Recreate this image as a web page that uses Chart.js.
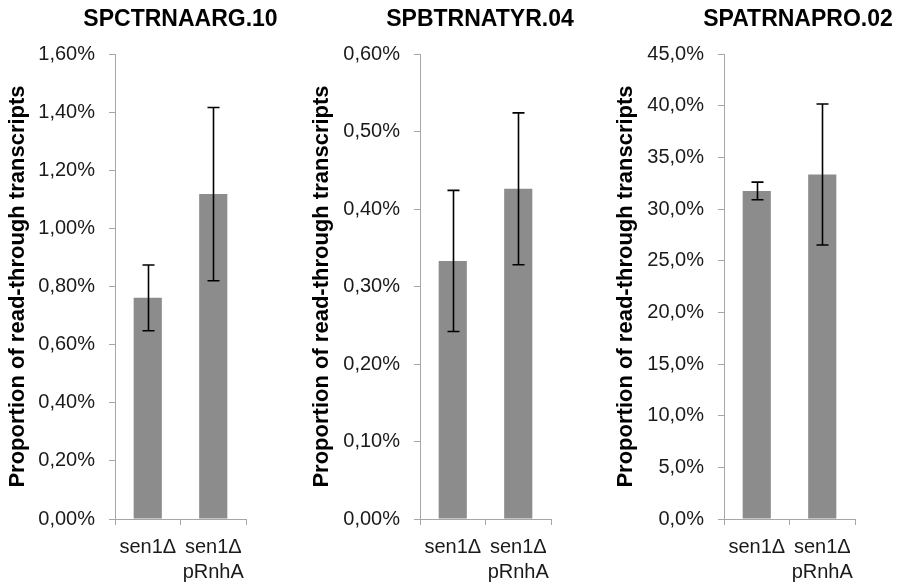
<!DOCTYPE html>
<html>
<head>
<meta charset="utf-8">
<script src="https://cdn.jsdelivr.net/npm/chart.js@4.4.1/dist/chart.umd.min.js"></script>
<style>
  html, body { margin: 0; padding: 0; background: #ffffff; overflow: hidden; width: 904px; height: 585px; }
  #wrap { position: relative; width: 904px; height: 585px; overflow: hidden; }
  canvas { position: absolute; top: 0; }
</style>
</head>
<body>
<div id="wrap">
  <canvas id="c1" width="361" height="585" style="left:0px"></canvas>
  <canvas id="c2" width="360" height="585" style="left:300px"></canvas>
  <canvas id="c3" width="396" height="585" style="left:600px"></canvas>
</div>
<script>
// ---- data ----
const categories = ['sen1Δ', ['sen1Δ', 'pRnhA']];
const panelTitles = ['SPCTRNAARG.10', 'SPBTRNATYR.04', 'SPATRNAPRO.02'];
const axisTitle = 'Proportion of read-through transcripts';

// values in percent
const valuesArg = [0.761, 1.118];
const errorsArg = [0.113, 0.298];
const valuesTyr = [0.333, 0.426];
const errorsTyr = [0.091, 0.098];
const valuesPro = [31.75, 33.34];
const errorsPro = [0.85, 6.82];

// axis ranges / tick formats
const yMaxes = [1.6, 0.6, 45];
const ySteps = [0.2, 0.1, 5];
const yDecimals = [2, 2, 1];

// ---- styling / layout ----
const BAR_COLOR = '#8c8c8c';
const AXIS_COLOR = '#a6a6a6';
const TEXT_COLOR = '#1a1a1a';
const FONT = "'Liberation Sans', Arial, sans-serif";

const errorBarPlugin = {
  id: 'errorBars',
  afterDatasetsDraw(chart, args, opts) {
    const ctx = chart.ctx;
    const xs = chart.scales.x, ys = chart.scales.y;
    const vals = chart.data.datasets[0].data;
    const errs = opts.errors || [];
    ctx.save();
    ctx.strokeStyle = '#000000';
    ctx.lineWidth = 1.6;
    vals.forEach((v, i) => {
      const e = errs[i];
      if (e == null) return;
      const x = Math.round(xs.getPixelForValue(i)) + 0.5;
      const yTop = ys.getPixelForValue(v + e);
      const yBot = ys.getPixelForValue(v - e);
      ctx.beginPath();
      ctx.moveTo(x, yTop); ctx.lineTo(x, yBot);
      ctx.moveTo(x - 6, yTop); ctx.lineTo(x + 6, yTop);
      ctx.moveTo(x - 6, yBot); ctx.lineTo(x + 6, yBot);
      ctx.stroke();
    });
    ctx.restore();
  }
};

function makeChart(id, idx, values, errors, cfg) {
  const dec = yDecimals[idx];
  return new Chart(document.getElementById(id), {
    type: 'bar',
    data: {
      labels: categories,
      datasets: [{
        data: values,
        backgroundColor: BAR_COLOR,
        borderWidth: 0,
        barPercentage: 0.43,
        categoryPercentage: 1.0
      }]
    },
    plugins: [errorBarPlugin],
    options: {
      responsive: false,
      animation: false,
      events: [],
      layout: { padding: 0 },
      plugins: {
        legend: { display: false },
        tooltip: { enabled: false },
        title: {
          display: true,
          text: panelTitles[idx],
          color: '#000000',
          font: { family: FONT, size: 23, weight: 'bold', lineHeight: 1.2 },
          padding: { top: 6, bottom: 20.4 }
        },
        errorBars: { errors: errors }
      },
      scales: {
        x: {
          grid: { display: true, drawOnChartArea: false, drawTicks: true, tickLength: 6, color: AXIS_COLOR, offset: true },
          border: { display: true, color: AXIS_COLOR, width: 1 },
          ticks: { color: TEXT_COLOR, font: { family: FONT, size: 20, lineHeight: 1.25 }, padding: 10, maxRotation: 0, autoSkip: false },
          afterFit: s => { s.height = 66; }
        },
        y: {
          min: 0,
          max: yMaxes[idx],
          grid: { display: true, drawOnChartArea: false, drawTicks: true, tickLength: 6, color: AXIS_COLOR },
          border: { display: true, color: AXIS_COLOR, width: 1 },
          ticks: {
            stepSize: ySteps[idx],
            color: TEXT_COLOR,
            font: { family: FONT, size: 20 },
            padding: 14,
            callback: v => v.toFixed(dec).replace('.', ',') + '%'
          },
          title: {
            display: true,
            text: axisTitle,
            color: '#000000',
            font: { family: FONT, size: 22, weight: 'bold', lineHeight: 1.2 },
            padding: { top: cfg.titlePad, bottom: 0 }
          },
          afterFit: s => { s.width = cfg.yWidth; }
        },
        spacer: {
          type: 'linear',
          position: 'right',
          display: true,
          grid: { display: false },
          border: { display: false },
          ticks: { display: false },
          afterFit: s => { s.width = cfg.rightWidth; }
        }
      }
    }
  });
}

makeChart('c1', 0, valuesArg, errorsArg, { yWidth: 115, rightWidth: 115, titlePad: 5 });
makeChart('c2', 1, valuesTyr, errorsTyr, { yWidth: 120, rightWidth: 109, titlePad: 9 });
makeChart('c3', 2, valuesPro, errorsPro, { yWidth: 124, rightWidth: 141, titlePad: 13 });
</script>
</body>
</html>
